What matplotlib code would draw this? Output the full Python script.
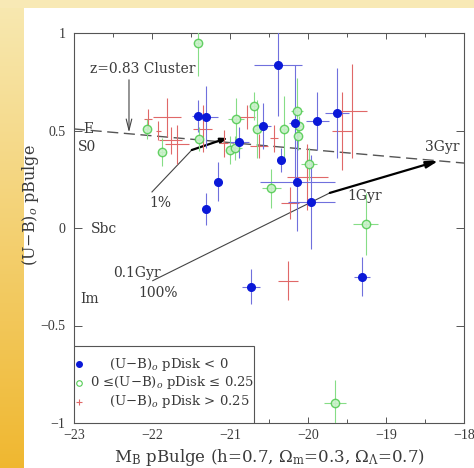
import matplotlib.pyplot as plt
import numpy as np
from matplotlib.patches import Rectangle

plt.rcParams["font.family"] = ["DejaVu Serif"]
plt.rcParams["mathtext.fontset"] = "dejavuserif"

# (U-B) pDisk < 0
blue_x = [-20.385, -21.41, -21.31, -20.88, -21.15, -21.31, -20.58, -20.17,
          -19.88, -19.63, -20.35, -20.14, -19.96, -20.73, -19.31]
blue_y = [0.836, 0.574, 0.569, 0.44, 0.236, 0.097, 0.523, 0.538,
          0.549, 0.59, 0.349, 0.236, 0.133, -0.30, -0.25]
blue_xerr = [0.31, 0.08, 0.15, 0.12, 0.05, 0.05, 0.10, 0.08,
             0.15, 0.15, 0.05, 0.48, 0.30, 0.12, 0.10]
blue_yerr = [0.26, 0.08, 0.16, 0.08, 0.10, 0.08, 0.12, 0.30,
             0.15, 0.23, 0.06, 0.25, 0.24, 0.09, 0.10]

# 0 <= (U-B) pDisk <= 0.25
green_x = [-21.41, -22.06, -21.87, -21.40, -20.92, -20.69, -20.65, -21.00,
           -20.93, -20.31, -20.14, -20.12, -20.13, -19.99, -20.47, -19.26, -19.65]
green_y = [0.949, 0.508, 0.39, 0.456, 0.559, 0.626, 0.508, 0.40,
           0.41, 0.508, 0.60, 0.523, 0.472, 0.328, 0.205, 0.02, -0.897]
green_xerr = [0.05, 0.05, 0.05, 0.05, 0.10, 0.05, 0.05, 0.05,
              0.08, 0.05, 0.08, 0.05, 0.05, 0.10, 0.12, 0.16, 0.14]
green_yerr = [0.17, 0.05, 0.07, 0.06, 0.11, 0.07, 0.15, 0.07,
              0.06, 0.17, 0.17, 0.05, 0.07, 0.08, 0.10, 0.16, 0.12]

# (U-B) pDisk > 0.25
red_x = [-21.81, -22.05, -21.92, -21.76, -21.68, -21.35, -21.08, -20.78,
         -20.63, -20.44, -20.23, -20.01, -19.56, -19.44, -20.26]
red_y = [0.569, 0.56, 0.50, 0.45, 0.43, 0.51, 0.435, 0.57,
         0.42, 0.46, 0.128, 0.26, 0.50, 0.60, -0.27]
red_xerr = [0.18, 0.05, 0.03, 0.15, 0.15, 0.12, 0.05, 0.10,
            0.12, 0.05, 0.12, 0.26, 0.13, 0.19, 0.13]
red_yerr = [0.10, 0.05, 0.05, 0.07, 0.10, 0.12, 0.07, 0.06,
            0.06, 0.07, 0.08, 0.17, 0.20, 0.24, 0.10]

# model lines
sequence_x = [-23.0, -18.0]
sequence_y = [0.508, 0.333]
burst1_x = [-22.0, -21.49, -21.03]
burst1_y = [0.185, 0.40, 0.462]
burst2_x = [-21.99, -19.72, -18.33]
burst2_y = [-0.27, 0.18, 0.344]

BLUE = "#0a18d8"
GREEN = "#55cc55"
RED = "#e06868"
TC = "#3a3a3a"

fig = plt.figure(figsize=(4.74, 4.68), dpi=100)
fig.patch.set_facecolor("white")

# slide background strips
bg = fig.add_axes([0, 0, 1, 1], zorder=-10)
bg.set_xlim(0, 474)
bg.set_ylim(468, 0)
bg.axis("off")
grad = np.linspace(0, 1, 256)[:, None]
cols = np.array([[0.97, 0.91, 0.69], [0.94, 0.72, 0.19]])
img = cols[0] + (cols[1] - cols[0]) * grad[..., None]
img = np.repeat(img, 2, axis=1)
bg.imshow(img, extent=[0, 24, 468, 8], aspect="auto")
bg.add_patch(Rectangle((0, 0), 474, 8, color="#f8e9b5", lw=0))

ax = fig.add_axes([74 / 474, 45 / 468, 390 / 474, 390 / 468])
ax.set_xlim(-23, -18)
ax.set_ylim(-1, 1)

for s in ax.spines.values():
    s.set_color("#555555")
    s.set_linewidth(0.8)
ax.set_xticks(np.arange(-23, -17.9, 1))
ax.set_xticks(np.arange(-22.5, -18, 1), minor=True)
ax.set_yticks([-1, -0.5, 0, 0.5, 1])
ax.set_xticklabels(["\u221223", "\u221222", "\u221221", "\u221220", "\u221219", "\u221218"],
                   family="Liberation Serif")
ax.set_yticklabels(["\u22121", "\u22120.5", "0", "0.5", "1"], family="Liberation Serif")
ax.tick_params(axis="x", which="major", direction="in", top=True, length=4.5,
               width=0.7, color="#555555", labelsize=10, labelcolor=TC, pad=4)
ax.tick_params(axis="x", which="minor", direction="in", top=True, length=3,
               width=0.7, color="#555555")
ax.tick_params(axis="y", which="major", direction="in", right=True, length=6,
               width=0.7, color="#555555", labelsize=10, labelcolor=TC, pad=6)

ax.set_xlabel(r"M$_\mathrm{B}$ pBulge (h=0.7, $\Omega_\mathrm{m}$=0.3, $\Omega_\Lambda$=0.7)",
              fontsize=12, color=TC, labelpad=4)
ax.set_ylabel(r"(U$-$B)$_o$ pBulge", fontsize=11.5, color=TC)
ax.yaxis.set_label_coords(-0.085, 0.56)

# color sequence and burst tracks
ax.plot(sequence_x, sequence_y, color="#555555", lw=1.0, dashes=(8, 4), zorder=2)
ax.plot(burst1_x[:2], burst1_y[:2], color="#444444", lw=0.8, zorder=2)
ax.annotate("", xy=(burst1_x[2], burst1_y[2]), xytext=(burst1_x[1], burst1_y[1]),
            arrowprops=dict(arrowstyle="-|>,head_width=0.15,head_length=0.4",
                            color="black", lw=1.6, shrinkA=0, shrinkB=0), zorder=3)
ax.plot(burst2_x[:2], burst2_y[:2], color="#444444", lw=0.8, zorder=2)
ax.annotate("", xy=(burst2_x[2], burst2_y[2]), xytext=(burst2_x[1], burst2_y[1]),
            arrowprops=dict(arrowstyle="-|>,head_width=0.2,head_length=0.7",
                            color="black", lw=1.6, shrinkA=0, shrinkB=0), zorder=3)
ax.annotate("", xy=(-22.295, 0.49), xytext=(-22.295, 0.76),
            arrowprops=dict(arrowstyle="->,head_width=0.2,head_length=0.8",
                            color="#444444", lw=0.8, shrinkA=0, shrinkB=0))

txt = dict(fontsize=10, color=TC, va="center", ha="left")
ax.text(-22.79, 0.815, "z=0.83 Cluster", **txt)
ax.text(-22.885, 0.51, "E", **txt)
ax.text(-22.95, 0.415, "S0", **txt)
ax.text(-22.79, -0.005, "Sbc", **txt)
ax.text(-22.92, -0.365, "Im", **txt)
ax.text(-22.03, 0.128, "1%", **txt)
ax.text(-22.5, -0.23, "0.1Gyr", **txt)
ax.text(-22.18, -0.333, "100%", **txt)
ax.text(-19.49, 0.164, "1Gyr", **txt)
ax.text(-18.5, 0.415, "3Gyr", **txt)

# data points
ax.errorbar(red_x, red_y, xerr=red_xerr, yerr=red_yerr, fmt="none",
            ecolor=RED, elinewidth=0.8, capsize=0, zorder=4)
ax.errorbar(green_x, green_y, xerr=green_xerr, yerr=green_yerr, fmt="none",
            ecolor="#86dd86", elinewidth=0.8, capsize=0, zorder=4)
ax.plot(green_x, green_y, "o", ms=6, mfc="#c8f0c8", mec=GREEN, mew=1.0,
        alpha=0.9, zorder=5)
ax.errorbar(blue_x, blue_y, xerr=blue_xerr, yerr=blue_yerr, fmt="none",
            ecolor="#7070dd", elinewidth=0.8, capsize=0, zorder=4)
ax.plot(blue_x, blue_y, "o", ms=5.5, color=BLUE, mec=BLUE, zorder=6)

# legend box drawn by hand to match the layout
ax.add_patch(Rectangle((0, 0), 0.4615, 0.197, transform=ax.transAxes,
                       fc="white", ec="#555555", lw=0.8, zorder=7))
leg_rows = [0.151, 0.103, 0.054]
leg_text = [
    r"(U$-$B)$_o$ pDisk < 0",
    "0 \u2264(U$-$B)$_o$ pDisk \u2264 0.25",
    r"(U$-$B)$_o$ pDisk > 0.25",
]
leg_text_x = [0.09, 0.041, 0.09]
ax.plot([0.013], [leg_rows[0]], "o", ms=4, color=BLUE, transform=ax.transAxes, zorder=8)
ax.plot([0.013], [leg_rows[1]], "o", ms=4, mfc="none", mec=GREEN, mew=0.8,
        transform=ax.transAxes, zorder=8)
ax.plot([0.013], [leg_rows[2]], "+", ms=5, color=RED, mew=0.8,
        transform=ax.transAxes, zorder=8)
for yy, xx, t in zip(leg_rows, leg_text_x, leg_text):
    ax.text(xx, yy, t, transform=ax.transAxes, fontsize=9.5, color=TC,
            va="center", ha="left", zorder=8)

fig.savefig("out.png", dpi=100)
